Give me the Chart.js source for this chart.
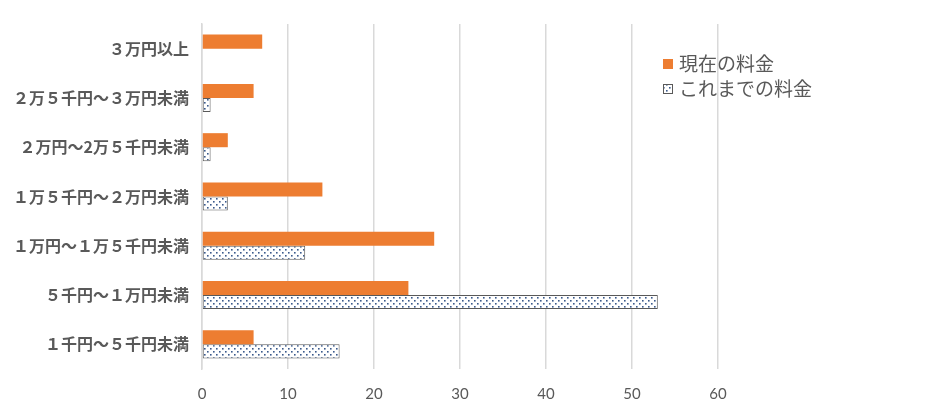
<!DOCTYPE html>
<html>
<head>
<meta charset="utf-8">
<script src="https://cdn.jsdelivr.net/npm/chart.js@4"></script>
<style>
  html, body { margin: 0; padding: 0; background: #fff; }
  #wrap { width: 944px; height: 417px; }
</style>
</head>
<body>
<div id="wrap"><canvas id="priceChart"></canvas></div>
<script>
// categories, top to bottom
const categories = [
  '３万円以上',
  '２万５千円～３万円未満',
  '２万円～2万５千円未満',
  '１万５千円～２万円未満',
  '１万円～１万５千円未満',
  '５千円～１万円未満',
  '１千円～５千円未満'
];
const currentFee = [7, 6, 3, 14, 27, 24, 6];   // 現在の料金
const previousFee = [0, 1, 1, 3, 12, 53, 16];  // これまでの料金
const xTicks = [0, 10, 20, 30, 40, 50, 60];
const seriesNames = ['現在の料金', 'これまでの料金'];

const jpFont = '"Noto Sans CJK JP", "Noto Sans", sans-serif';

// dotted pattern for the old fee bars
function makeDots() {
  const c = document.createElement('canvas');
  c.width = 6; c.height = 6;
  const g = c.getContext('2d');
  g.fillStyle = '#ffffff';
  g.fillRect(0, 0, 6, 6);
  g.fillStyle = '#3b5a8c';
  g.fillRect(0, 0, 1.6, 1.6);
  g.fillRect(3, 3, 1.6, 1.6);
  return g.createPattern(c, 'repeat');
}
const dots = makeDots();

// legend drawn over the plot area like the original
const legendPlugin = {
  id: 'floatLegend',
  afterDraw(chart) {
    const ctx = chart.ctx;
    ctx.save();
    ctx.font = '19px ' + jpFont;
    ctx.textBaseline = 'middle';
    // current fee
    ctx.fillStyle = '#ed7d31';
    ctx.fillRect(663, 59, 10, 10);
    ctx.fillStyle = '#595959';
    ctx.fillText(seriesNames[0], 679, 64);
    // previous fee
    ctx.fillStyle = dots;
    ctx.fillRect(663, 84, 10, 10);
    ctx.strokeStyle = '#595959';
    ctx.lineWidth = 1;
    ctx.strokeRect(663.5, 84.5, 9, 9);
    ctx.fillStyle = '#595959';
    ctx.fillText(seriesNames[1], 679, 89);
    ctx.restore();
  }
};

const ctx = document.getElementById('priceChart').getContext('2d');
new Chart(ctx, {
  type: 'bar',
  data: {
    labels: categories,
    datasets: [{
      label: seriesNames[0],
      data: currentFee,
      backgroundColor: '#ed7d31',
      borderWidth: 0,
      categoryPercentage: 0.57,
      barPercentage: 1
    }, {
      label: seriesNames[1],
      data: previousFee,
      backgroundColor: dots,
      borderColor: '#595959',
      borderWidth: 1,
      borderSkipped: false,
      categoryPercentage: 0.57,
      barPercentage: 1
    }]
  },
  options: {
    indexAxis: 'y',
    responsive: true,
    maintainAspectRatio: false,
    animation: false,
    layout: { padding: { top: 24, right: 226, bottom: -2, left: 0 } },
    plugins: {
      legend: { display: false },
      tooltip: { enabled: false }
    },
    scales: {
      x: {
        min: 0,
        max: 60,
        afterBuildTicks: (scale) => { scale.ticks = xTicks.map(v => ({ value: v })); },
        grid: { color: '#d9d9d9', lineWidth: 1.5, tickLength: 0 },
        border: { display: false },
        ticks: {
          color: '#595959',
          padding: 16,
          font: { family: 'Lato, "Open Sans", sans-serif', size: 15 }
        }
      },
      y: {
        afterFit: (scale) => { scale.width = 202; },
        grid: { display: false },
        border: { display: true, color: '#d9d9d9', width: 1.5 },
        ticks: {
          color: '#595959',
          padding: 5,
          font: { family: jpFont, size: 16, weight: 'bold' }
        }
      }
    }
  },
  plugins: [legendPlugin]
});
</script>
</body>
</html>
